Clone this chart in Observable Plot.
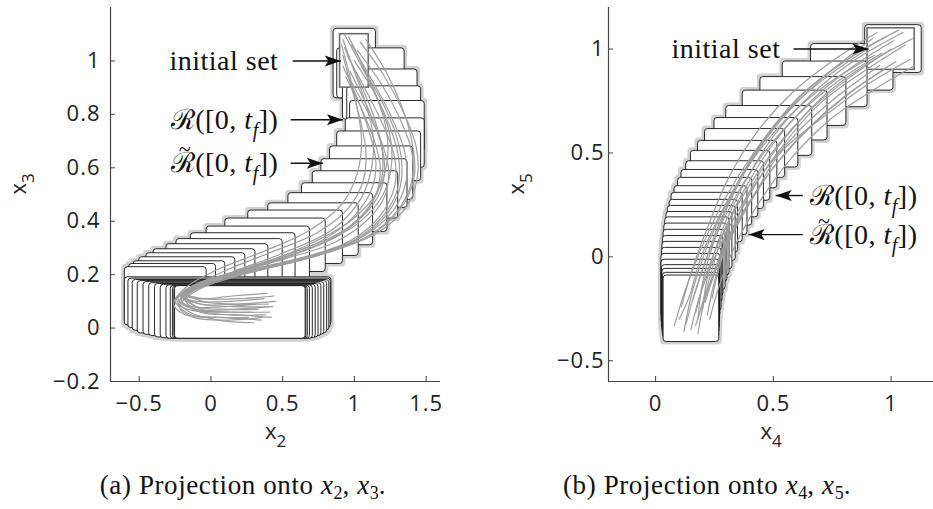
<!DOCTYPE html>
<html><head><meta charset="utf-8">
<script src="https://cdn.jsdelivr.net/npm/d3@7"></script>
<script src="https://cdn.jsdelivr.net/npm/@observablehq/plot@0.6"></script>
<style>
body{margin:0;background:#fff;overflow:hidden;width:933px;height:509px;position:relative;}
#pa{position:absolute;left:0;top:0;width:466px;}
#pb{position:absolute;left:466px;top:0;width:467px;}
.cap{position:absolute;top:470px;font-family:"Liberation Serif",serif;font-size:27px;letter-spacing:0.6px;text-align:center;white-space:nowrap;color:#111;}
.cap sub{font-size:18px;vertical-align:-5px;letter-spacing:0;}
#capa{left:0;width:486px;}
#capb{left:474px;width:466px;}
g[font-family*="Liberation"] text{letter-spacing:0.5px;}
g[aria-label$="tick label"] text{letter-spacing:1px;}
</style></head><body>
<div id="pa"></div><div id="pb"></div>
<div class="cap" id="capa">(a) Projection onto <i>x</i><sub>2</sub>, <i>x</i><sub>3</sub>.</div>
<div class="cap" id="capb">(b) Projection onto <i>x</i><sub>4</sub>, <i>x</i><sub>5</sub>.</div>
<script>
// ---------- Panel (a): projection onto x2, x3 ----------
const xDomainA = [-0.7, 1.6];
const yDomainA = [-0.2, 1.2];
const xTicksA = [-0.5, 0, 0.5, 1, 1.5];
const yTicksA = [-0.2, 0, 0.2, 0.4, 0.6, 0.8, 1];
const initA = [0.9, 1.1, 0.9, 1.1]; // x1, x2, y1, y2
// reachable-set boxes in time order: [x1, x2, y1, y2]
const boxesA = [
  [0.855, 1.15, 0.86, 1.12],
  [0.88, 1.35, 0.86, 1.047],
  [0.92, 1.44, 0.78, 0.968],
  [0.95, 1.465, 0.72, 0.905],
  [0.97, 1.49, 0.66, 0.85],
  [0.94, 1.49, 0.60, 0.785],
  [0.88, 1.465, 0.55, 0.736],
  [0.83, 1.41, 0.48, 0.68],
  [0.77, 1.37, 0.45, 0.632],
  [0.71, 1.305, 0.41, 0.587],
  [0.635, 1.23, 0.36, 0.542],
  [0.54, 1.13, 0.31, 0.505],
  [0.40, 1.03, 0.27, 0.467],
  [0.26, 0.92, 0.24, 0.44],
  [0.10, 0.80, 0.21, 0.41],
  [-0.03, 0.69, 0.18, 0.38],
  [-0.14, 0.59, 0.16, 0.355],
  [-0.24, 0.50, 0.14, 0.333],
  [-0.31, 0.40, 0.12, 0.314],
  [-0.40, 0.31, 0.08, 0.295],
  [-0.45, 0.24, 0.05, 0.28],
  [-0.50, 0.17, 0.03, 0.265],
  [-0.54, 0.10, 0.02, 0.25],
  [-0.57, 0.035, 0.02, 0.24],
  [-0.60, -0.03, 0.02, 0.228],
  [-0.60, 0.84, 0.01, 0.19],
  [-0.575, 0.835, 0.0, 0.185],
  [-0.545, 0.825, -0.01, 0.18],
  [-0.51, 0.81, -0.02, 0.176],
  [-0.47, 0.79, -0.025, 0.172],
  [-0.43, 0.77, -0.03, 0.168],
  [-0.39, 0.75, -0.035, 0.165],
  [-0.35, 0.73, -0.038, 0.162],
  [-0.31, 0.71, -0.04, 0.16],
  [-0.28, 0.69, -0.04, 0.158],
  [-0.265, 0.675, -0.04, 0.157],
  [-0.255, 0.665, -0.04, 0.157],
  [-0.25, 0.66, -0.04, 0.157]
];
// simulated trajectories (x2, x3)
const trajA = [
  [[0.92,1.08],[1.00,0.96],[1.08,0.84],[1.13,0.72],[1.12,0.60],[1.04,0.48],[0.85,0.37],[0.50,0.28],[0.15,0.21],[-0.12,0.15],[-0.22,0.10],[-0.10,0.07],[0.15,0.07],[0.40,0.08]],
  [[0.93,1.05],[1.03,0.93],[1.13,0.80],[1.19,0.68],[1.19,0.56],[1.10,0.45],[0.90,0.35],[0.55,0.27],[0.20,0.21],[-0.10,0.16],[-0.20,0.12],[-0.08,0.09],[0.18,0.09],[0.45,0.10]],
  [[0.95,1.02],[1.07,0.90],[1.20,0.76],[1.28,0.64],[1.28,0.53],[1.18,0.42],[0.98,0.33],[0.62,0.26],[0.25,0.21],[-0.08,0.16],[-0.21,0.11],[-0.12,0.07],[0.10,0.05],[0.38,0.05]],
  [[0.92,0.98],[1.02,0.86],[1.10,0.74],[1.15,0.62],[1.12,0.52],[1.00,0.42],[0.78,0.33],[0.45,0.26],[0.12,0.20],[-0.14,0.14],[-0.23,0.09],[-0.14,0.05],[0.08,0.04],[0.35,0.03]],
  [[0.98,1.06],[1.12,0.93],[1.25,0.80],[1.35,0.66],[1.36,0.55],[1.27,0.44],[1.05,0.34],[0.68,0.27],[0.28,0.22],[-0.05,0.17],[-0.18,0.13],[-0.05,0.11],[0.20,0.11],[0.44,0.12]],
  [[1.02,1.04],[1.18,0.92],[1.32,0.78],[1.40,0.66],[1.40,0.55],[1.30,0.44],[1.08,0.34],[0.72,0.27],[0.30,0.22],[-0.04,0.17],[-0.20,0.12],[-0.10,0.08],[0.12,0.07],[0.33,0.07]],
  [[0.94,0.94],[1.05,0.82],[1.14,0.70],[1.18,0.60],[1.15,0.50],[1.03,0.41],[0.82,0.33],[0.48,0.26],[0.14,0.20],[-0.14,0.15],[-0.24,0.11],[-0.15,0.06],[0.05,0.03],[0.30,0.02]],
  [[0.96,1.09],[1.06,0.98],[1.16,0.86],[1.24,0.74],[1.26,0.62],[1.20,0.50],[1.02,0.39],[0.70,0.30],[0.30,0.23],[-0.02,0.18],[-0.17,0.13],[-0.06,0.10],[0.16,0.09],[0.40,0.09]],
  [[1.05,0.98],[1.18,0.86],[1.28,0.74],[1.33,0.62],[1.31,0.51],[1.20,0.41],[0.98,0.32],[0.60,0.25],[0.22,0.20],[-0.10,0.14],[-0.22,0.08],[-0.12,0.04],[0.12,0.03],[0.36,0.04]],
  [[0.92,1.02],[0.98,0.90],[1.04,0.78],[1.08,0.66],[1.06,0.55],[0.96,0.45],[0.75,0.36],[0.40,0.28],[0.08,0.21],[-0.16,0.14],[-0.25,0.10],[-0.16,0.07],[0.06,0.06],[0.28,0.06]],
  [[1.08,1.08],[1.22,0.96],[1.33,0.83],[1.40,0.70],[1.42,0.58],[1.35,0.47],[1.15,0.36],[0.78,0.28],[0.35,0.22],[0.00,0.17],[-0.18,0.11],[-0.08,0.06],[0.18,0.05],[0.42,0.04]],
  [[0.98,0.92],[1.10,0.80],[1.20,0.68],[1.24,0.58],[1.20,0.48],[1.08,0.40],[0.86,0.32],[0.52,0.26],[0.18,0.21],[-0.11,0.16],[-0.21,0.12],[-0.10,0.10],[0.14,0.10],[0.37,0.11]],
  [[0.91,1.06],[0.97,0.94],[1.02,0.82],[1.05,0.70],[1.02,0.58],[0.92,0.47],[0.70,0.37],[0.38,0.29],[0.05,0.22],[-0.18,0.15],[-0.26,0.09],[-0.18,0.05],[0.04,0.04],[0.26,0.04]],
  [[1.00,1.00],[1.14,0.88],[1.25,0.75],[1.31,0.63],[1.30,0.52],[1.20,0.42],[1.00,0.33],[0.64,0.26],[0.26,0.21],[-0.06,0.16],[-0.19,0.12],[-0.07,0.09],[0.17,0.08],[0.43,0.08]],
  [[0.93,1.10],[1.04,0.99],[1.15,0.87],[1.22,0.75],[1.23,0.63],[1.16,0.51],[0.97,0.40],[0.63,0.30],[0.24,0.22],[-0.08,0.17],[-0.20,0.13],[-0.09,0.11],[0.15,0.12],[0.39,0.13]],
  [[0.97,0.96],[1.08,0.84],[1.17,0.72],[1.21,0.61],[1.18,0.51],[1.06,0.42],[0.84,0.34],[0.50,0.27],[0.16,0.21],[-0.12,0.16],[-0.23,0.11],[-0.13,0.08],[0.09,0.08],[0.32,0.09]],
  [[1.04,1.07],[1.20,0.95],[1.34,0.81],[1.43,0.68],[1.44,0.57],[1.37,0.46],[1.17,0.36],[0.80,0.28],[0.36,0.22],[0.01,0.17],[-0.17,0.12],[-0.07,0.07],[0.16,0.06],[0.41,0.06]]
];
const annLabelsA = ["initial set", "ℛ([0, t_f])", "ℛ\u0303([0, t_f])"];
const annTextXA = [0.47, 0.47, 0.47];
const annYA = [1.0, 0.78, 0.617];
const arrowFromA = [0.57, 0.556, 0.556];
const arrowToA = [0.905, 0.92, 0.78];

// ---------- Panel (b): projection onto x4, x5 ----------
const xDomainB = [-0.2, 1.18];
const yDomainB = [-0.6, 1.2];
const xTicksB = [0, 0.5, 1];
const yTicksB = [-0.5, 0, 0.5, 1];
const initB = [0.9, 1.1, 0.9, 1.1];
const boxesB = [
  [0.89, 1.13, 0.885, 1.115],
  [0.66, 1.01, 0.80, 1.024],
  [0.54, 0.90, 0.72, 0.94],
  [0.445, 0.81, 0.63, 0.865],
  [0.37, 0.73, 0.56, 0.80],
  [0.30, 0.665, 0.486, 0.726],
  [0.25, 0.606, 0.43, 0.668],
  [0.21, 0.55, 0.38, 0.615],
  [0.18, 0.517, 0.33, 0.558],
  [0.15, 0.487, 0.27, 0.51],
  [0.13, 0.46, 0.23, 0.46],
  [0.11, 0.436, 0.19, 0.418],
  [0.095, 0.41, 0.15, 0.38],
  [0.08, 0.39, 0.105, 0.34],
  [0.068, 0.37, 0.07, 0.308],
  [0.06, 0.35, 0.02, 0.274],
  [0.052, 0.34, -0.02, 0.245],
  [0.046, 0.326, -0.06, 0.216],
  [0.041, 0.314, -0.09, 0.19],
  [0.037, 0.305, -0.12, 0.16],
  [0.034, 0.297, -0.16, 0.13],
  [0.031, 0.288, -0.19, 0.10],
  [0.029, 0.284, -0.22, 0.072],
  [0.027, 0.28, -0.26, 0.043],
  [0.025, 0.275, -0.29, 0.014],
  [0.025, 0.273, -0.32, -0.014],
  [0.027, 0.272, -0.35, -0.04],
  [0.029, 0.271, -0.37, -0.058],
  [0.031, 0.27, -0.39, -0.077],
  [0.034, 0.27, -0.41, -0.09]
];
const trajB = [
  [[0.92,1.05],[0.75,0.90],[0.58,0.72],[0.44,0.52],[0.33,0.30],[0.25,0.08],[0.20,-0.12],[0.18,-0.30]],
  [[1.05,1.08],[0.85,0.95],[0.66,0.78],[0.50,0.58],[0.38,0.36],[0.28,0.12],[0.22,-0.10],[0.20,-0.25]],
  [[1.08,0.95],[0.90,0.83],[0.72,0.68],[0.53,0.50],[0.42,0.30],[0.31,0.08],[0.25,-0.12],[0.22,-0.28]],
  [[0.95,0.92],[0.78,0.78],[0.62,0.62],[0.48,0.44],[0.36,0.24],[0.26,0.02],[0.19,-0.18],[0.15,-0.35]],
  [[1.00,1.00],[0.82,0.86],[0.65,0.70],[0.50,0.51],[0.38,0.31],[0.28,0.10],[0.21,-0.10],[0.17,-0.27]],
  [[0.94,1.08],[0.76,0.95],[0.58,0.79],[0.43,0.60],[0.31,0.38],[0.22,0.14],[0.15,-0.08],[0.11,-0.24]],
  [[1.06,1.02],[0.88,0.89],[0.70,0.74],[0.55,0.55],[0.42,0.34],[0.32,0.12],[0.25,-0.08],[0.21,-0.22]],
  [[0.98,1.06],[0.79,0.93],[0.60,0.76],[0.45,0.55],[0.33,0.32],[0.23,0.08],[0.16,-0.15],[0.12,-0.36]],
  [[1.02,0.94],[0.85,0.81],[0.68,0.65],[0.53,0.47],[0.40,0.27],[0.29,0.05],[0.22,-0.16],[0.17,-0.33]],
  [[0.96,0.98],[0.78,0.85],[0.61,0.69],[0.46,0.50],[0.34,0.29],[0.24,0.06],[0.17,-0.16],[0.13,-0.32]],
  [[1.09,1.05],[0.90,0.93],[0.72,0.78],[0.57,0.60],[0.44,0.40],[0.34,0.17],[0.27,-0.05],[0.24,-0.20]],
  [[0.93,0.97],[0.74,0.84],[0.57,0.68],[0.42,0.48],[0.30,0.26],[0.20,0.02],[0.14,-0.20],[0.10,-0.30]],
  [[0.90,1.00],[0.72,0.86],[0.55,0.69],[0.41,0.49],[0.29,0.27],[0.19,0.03],[0.12,-0.18],[0.08,-0.33]],
  [[1.03,1.09],[0.84,0.97],[0.65,0.81],[0.50,0.62],[0.37,0.40],[0.27,0.16],[0.20,-0.06],[0.16,-0.20]],
  [[1.10,0.92],[0.92,0.80],[0.74,0.66],[0.58,0.48],[0.45,0.28],[0.34,0.06],[0.27,-0.14],[0.23,-0.30]],
  [[0.97,0.90],[0.80,0.77],[0.64,0.61],[0.50,0.43],[0.38,0.22],[0.28,0.00],[0.21,-0.20],[0.18,-0.37]],
  [[1.01,1.04],[0.83,0.91],[0.66,0.75],[0.51,0.56],[0.39,0.35],[0.29,0.12],[0.23,-0.10],[0.19,-0.26]]
];
const annLabelsB = ["initial set", "ℛ([0, t_f])", "ℛ\u0303([0, t_f])"];
const annTextXB = [0.53, 0.655, 0.655];
const annYB = [1.0, 0.295, 0.107];
const arrowFromB = [0.586, 0.625, 0.625];
const arrowToB = [0.904, 0.51, 0.395];

// ---------- rendering ----------
const headSymbol = {
  draw(ctx) { ctx.moveTo(0, 0); ctx.lineTo(-16, -5.5); ctx.lineTo(-12.5, 0); ctx.lineTo(-16, 5.5); ctx.closePath(); }
};
const fmt = d => (d < 0 ? "\u2212" : "") + Math.abs(d);

function makePanel(o) {
  const W = o.width, H = 460, mL = o.marginLeft, mR = o.marginRight, mT = 7, mB = 79;
  const fw = W - mL - mR, fh = H - mT - mB;
  const boxes = o.boxes.map(([x1, x2, y1, y2]) => ({x1, x2, y1, y2}));
  const init = [{x1: o.init[0], x2: o.init[1], y1: o.init[2], y2: o.init[3]}];
  const traj = o.traj.flatMap((pts, i) => pts.map(([x, y]) => ({i, x, y})));
  const ann = o.labels.map((label, i) => ({label, tx: o.textX[i], y: o.annY[i], from: o.from[i], to: o.to[i]}));
  const annEnd = ann.filter(d => o.endAnchored(d));
  const annStart = ann.filter(d => !o.endAnchored(d));
  const textOpts = {x: "tx", y: "y", text: "label", fontFamily: "'Liberation Serif', serif", fontSize: 28, lineAnchor: "middle", fill: "#111"};
  return Plot.plot({
    width: W, height: H, marginLeft: mL, marginRight: mR, marginTop: mT, marginBottom: mB,
    x: {domain: o.xDomain}, y: {domain: o.yDomain},
    style: {fontFamily: "'Open Sans', sans-serif", fontSize: "22px", color: "#222", background: "white"},
    marks: [
      Plot.rect(boxes, {x1: "x1", x2: "x2", y1: "y1", y2: "y2", fill: "#d2d2d2", inset: -3, rx: 4}),
      Plot.rect(boxes, {x1: "x1", x2: "x2", y1: "y1", y2: "y2", fill: "white", stroke: "#111", strokeWidth: 0.9, rx: 3}),
      Plot.rect(init, {x1: "x1", x2: "x2", y1: "y1", y2: "y2", fill: "white", stroke: "#6b6b6b", strokeWidth: 1.6}),
      Plot.line(traj, {x: "x", y: "y", z: "i", stroke: "#9d9d9d", strokeWidth: 1.2, curve: "catmull-rom"}),
      Plot.ruleY([o.yDomain[0]], {stroke: "#444", strokeWidth: 1.2}),
      Plot.ruleX([o.xDomain[0]], {stroke: "#444", strokeWidth: 1.2}),
      Plot.tickX(o.xTicks, {x: d => d, stroke: "#444", insetTop: fh - 5}),
      Plot.tickY(o.yTicks, {y: d => d, stroke: "#444", insetRight: fw - 5}),
      Plot.axisX({ticks: o.xTicks, tickFormat: fmt, tickSize: 0, tickPadding: 14, label: null}),
      Plot.axisY({ticks: o.yTicks, tickFormat: fmt, tickSize: 0, tickPadding: o.yPad, label: null}),
      Plot.text([o.xLabel], {frameAnchor: "bottom", dy: 50, fontSize: 22, lineAnchor: "middle"}),
      Plot.text([o.yLabel], {frameAnchor: "left", dx: -92, rotate: -90, fontSize: 22, lineAnchor: "middle"}),
      Plot.link(ann, {x1: "from", x2: "to", y1: "y", y2: "y", stroke: "#111", strokeWidth: 1.4}),
      Plot.dot(ann, {x: "to", y: "y", symbol: headSymbol, fill: "#111", stroke: "none", rotate: d => d.to > d.from ? 0 : 180}),
      Plot.text(annEnd, {...textOpts, textAnchor: "end"}),
      Plot.text(annStart, {...textOpts, textAnchor: "start"})
    ]
  });
}

function enrich(svg) {
  const NS = "http://www.w3.org/2000/svg";
  svg.querySelectorAll("text").forEach(t => {
    let s = t.textContent;
    if (!s.includes("_")) return;
    const fs = parseFloat(getComputedStyle(t).fontSize) || 20;
    const hasTilde = s.includes("\u0303");
    s = s.replace("\u0303", "");
    const shift = Math.round(fs * 0.28), sub = Math.round(fs * 0.7);
    const parts = s.split(/(t_f|x_\d)/);
    t.textContent = "";
    let pending = 0, tilde = null;
    const add = (txt, attrs) => {
      const ts = document.createElementNS(NS, "tspan");
      ts.textContent = txt;
      for (const k in attrs) ts.setAttribute(k, attrs[k]);
      t.appendChild(ts);
      return ts;
    };
    for (const p of parts) {
      if (!p) continue;
      if (p === "t_f") {
        add("t", pending ? {"font-style": "italic", dy: -pending} : {"font-style": "italic"});
        add("f", {"font-style": "italic", "font-size": sub, dy: shift});
        pending = shift;
      } else if (/^x_\d$/.test(p)) {
        add("x", pending ? {dy: -pending} : {});
        add(p[2], {"font-size": Math.round(fs * 0.75), dy: Math.round(fs * 0.38)});
        pending = Math.round(fs * 0.38);
      } else if (hasTilde && p.startsWith("ℛ")) {
        const up = Math.round(fs * 0.57);
        const r = add("ℛ", {});
        const tl = add("~", {"font-size": Math.round(fs * 0.8), dy: -up});
        const rest = add(p.slice(1), {dy: up});
        tilde = {r, tl, rest};
        pending = 0;
      } else {
        add(p, pending ? {dy: -pending} : {});
        pending = 0;
      }
    }
    if (tilde) {
      const wR = tilde.r.getComputedTextLength();
      const wT = tilde.tl.getComputedTextLength();
      tilde.tl.setAttribute("dx", -(wR / 2 + wT / 2) + 2);
      tilde.rest.setAttribute("dx", wR / 2 - wT / 2 - 2);
    }
  });
}

const svgA = makePanel({
  width: 466, marginLeft: 110, marginRight: 26, xDomain: xDomainA, yDomain: yDomainA,
  xTicks: xTicksA, yTicks: yTicksA, yPad: 10, boxes: boxesA, init: initA, traj: trajA,
  labels: annLabelsA, textX: annTextXA, annY: annYA, from: arrowFromA, to: arrowToA,
  endAnchored: d => true, xLabel: "x_2", yLabel: "x_3"
});
document.getElementById("pa").appendChild(svgA);
enrich(svgA);

const svgB = makePanel({
  width: 467, marginLeft: 142, marginRight: 0, xDomain: xDomainB, yDomain: yDomainB,
  xTicks: xTicksB, yTicks: yTicksB, yPad: 4, boxes: boxesB, init: initB, traj: trajB,
  labels: annLabelsB, textX: annTextXB, annY: annYB, from: arrowFromB, to: arrowToB,
  endAnchored: d => d.label === "initial set", xLabel: "x_4", yLabel: "x_5"
});
document.getElementById("pb").appendChild(svgB);
enrich(svgB);
</script>
</body></html>
